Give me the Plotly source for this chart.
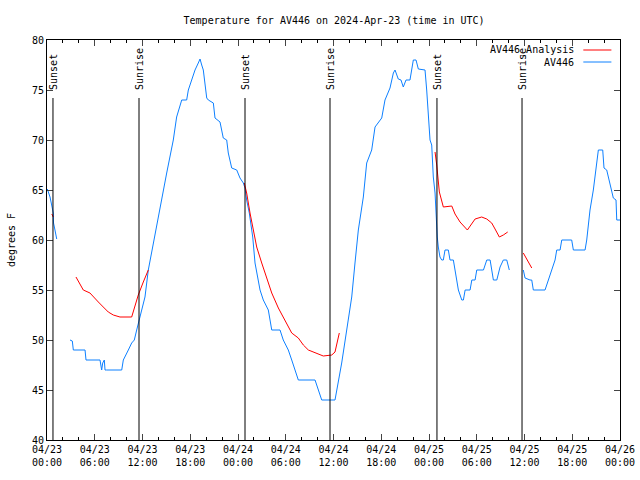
import pandas as pd
import plotly.graph_objects as go

START = pd.Timestamp("2024-04-23 00:00")

# AV446 observed temperature: hours since 04/23 00:00 UTC, degrees F (None = gap)
obs_hours = [0.04, 0.38, 0.79, 0.82, 1.0, 1.22, None,
             2.89, 3.18, 3.31, 4.78, 4.90, 6.66, 6.87, 7.0, 7.2, 7.29, 7.50, 9.39, 9.59, 9.93,
             10.22, 10.64, 10.97, 11.27, 11.60, 11.90, 12.31, 12.73, 13.36, 14.20, 15.04, 15.87,
             16.29, 16.93, 17.55, 17.76, 18.18, 18.60, 19.01, 19.23, 19.44, 19.64, 20.07, 20.27,
             20.90, 21.11, 21.74, 22.15, 22.58, 22.78, 23.21, 23.84, 24.25, 24.67, 24.88, 25.09,
             25.42, 25.85, 26.14, 26.43, 26.77, 27.18, 27.81, 28.24, 29.28, 29.69, 30.32, 30.75,
             31.16, 31.58, 33.68, 34.09, 34.52, 36.19, 36.60, 37.03, 37.66, 38.29, 38.70, 39.12,
             39.75, 40.17, 40.80, 41.22, 42.06, 42.47, 43.10, 43.52, 43.73, 44.14, 44.48, 44.77,
             45.11, 45.61, 46.03, 46.37, 46.66, 47.50, 47.71, 47.91, 48.13, 48.34, 48.54, 48.76,
             48.88, 49.04, 49.17, 49.38, 49.60, 49.80, 50.01, 50.43, 50.64, 51.06, 51.27, 51.69,
             52.12, 52.32, 52.54, 53.16, 53.38, 53.79, 54.00, 54.84, 55.26, 55.68, 56.09, 56.52,
             56.93, 57.34, 57.77, 58.09, None,
             59.85, 60.07, 60.69, 60.91, 61.11, 62.58, 63.00, 63.42, 63.84, 64.05, 64.47, 64.68,
             65.93, 66.14, 67.61, 67.82, 68.23, 68.65, 69.08, 69.28, 69.83, 69.99, 70.33, 70.75,
             71.16, 71.50, 71.59, 72.0]
obs_temp = [65.1, 64.3, 62.7, 61.7, 61.0, 60.1, None,
            50.0, 49.9, 49.0, 49.0, 48.0, 48.0, 47.0, 47.7, 48.0, 47.0, 47.0, 47.0, 48.0, 48.5,
            49.0, 49.7, 50.0, 51.0, 52.0, 53.0, 54.3, 57.0, 59.7, 63.0, 66.7, 70.0,
            72.3, 74.0, 74.0, 75.0, 76.0, 77.0, 77.7, 78.1, 77.5, 77.0, 74.2, 74.0,
            73.7, 72.2, 71.8, 70.2, 70.0, 68.7, 67.2, 67.0, 66.2, 65.7, 65.2, 64.0,
            62.7, 60.3, 57.7, 56.3, 55.0, 54.0, 53.0, 51.0, 51.0, 50.0, 49.0, 48.0,
            47.0, 46.0, 46.0, 45.0, 44.0, 44.0, 45.7, 47.7, 51.0, 54.3, 57.7, 61.0,
            64.3, 67.7, 69.0, 71.3, 72.2, 74.0, 75.2, 76.7, 77.0, 76.1, 76.0, 75.3,
            76.0, 76.0, 78.0, 78.0, 77.1, 77.0, 75.0, 72.7, 70.0, 69.5, 66.3, 64.7,
            62.0, 60.3, 59.3, 58.3, 58.0, 58.0, 59.0, 59.0, 58.0, 58.0, 57.0, 55.0,
            54.0, 54.0, 55.0, 55.0, 56.0, 56.0, 57.0, 57.0, 58.0, 58.0, 56.0, 56.0,
            57.3, 58.0, 58.0, 57.0, None,
            57.0, 56.2, 56.0, 56.0, 55.0, 55.0, 56.0, 57.0, 58.0, 59.0, 59.0, 60.0,
            60.0, 59.0, 59.0, 60.0, 63.0, 65.0, 68.0, 69.0, 69.0, 67.2, 67.0, 65.7,
            64.2, 64.0, 62.0, 62.0]

# AV446 analysis temperature
ana_hours = [0.60, 0.79, None,
             3.64, 4.15, 4.56, 5.40, 5.82, 6.45, 7.07, 7.70, 8.33, 9.17, 10.64, 11.06, 11.47,
             12.10, 12.73, None,
             24.79, 25.09, 25.51, 25.92, 26.35, 26.98, 27.61, 28.24, 29.07, 29.91, 30.75, 31.58,
             32.21, 32.84, 33.68, 34.72, 35.78, 36.19, 36.73, None,
             48.76, 48.97, 49.30, 49.60, 49.80, 50.86, 51.27, 51.90, 52.82, 53.79, 54.62, 55.26,
             55.88, 56.30, 56.84, 57.34, 57.89, None,
             59.85, 60.91]
ana_temp = [62.6, 62.3, None,
            56.3, 55.5, 55.0, 54.7, 54.3, 53.8, 53.3, 52.8, 52.5, 52.3, 52.3, 53.5, 54.5,
            55.8, 57.0, None,
            65.7, 64.7, 62.7, 61.0, 59.3, 57.7, 56.2, 54.7, 53.2, 52.0, 50.7, 50.2,
            49.5, 49.0, 48.7, 48.4, 48.5, 48.8, 50.7, None,
            68.8, 67.5, 64.8, 63.7, 63.3, 63.4, 62.6, 61.8, 61.0, 62.1, 62.3, 62.1,
            61.7, 61.1, 60.3, 60.5, 60.8, None,
            58.7, 57.2]

event_hours = [0.75, 11.56, 24.88, 35.56, 49.0, 59.69]
event_labels = ["Sunset", "Sunrise", "Sunset", "Sunrise", "Sunset", "Sunrise"]

tick_hours = list(range(0, 73, 6))
tick_labels = ["04/23<br>00:00", "04/23<br>06:00", "04/23<br>12:00", "04/23<br>18:00",
               "04/24<br>00:00", "04/24<br>06:00", "04/24<br>12:00", "04/24<br>18:00",
               "04/25<br>00:00", "04/25<br>06:00", "04/25<br>12:00", "04/25<br>18:00",
               "04/26<br>00:00"]


def to_time(hours):
    return [None if h is None else START + pd.Timedelta(hours=h) for h in hours]


FONT = "DejaVu Sans Mono"
RED = "#ff0000"
BLUE = "#0d80ff"

fig = go.Figure()
fig.add_trace(go.Scatter(x=to_time(obs_hours), y=obs_temp, mode="lines",
                         line=dict(color=BLUE, width=1), name="AV446",
                         connectgaps=False))
fig.add_trace(go.Scatter(x=to_time(ana_hours), y=ana_temp, mode="lines",
                         line=dict(color=RED, width=1), name="AV446_Analysis",
                         connectgaps=False))

for h, lab in zip(event_hours, event_labels):
    t = START + pd.Timedelta(hours=h)
    fig.add_shape(type="line", x0=t, x1=t, y0=40, y1=74.2, xref="x", yref="y",
                  line=dict(color="black", width=1))
    fig.add_annotation(x=t, y=74.8, xref="x", yref="y", text=lab, textangle=-90,
                       showarrow=False, yanchor="bottom", xanchor="center",
                       font=dict(family=FONT, size=10, color="black"))

# legend (gnuplot style: text then line sample)
legend_items = [("AV446_Analysis", RED), ("AV446", BLUE)]
for i, (name, col) in enumerate(legend_items):
    yp = 0.975 - i * 0.03
    fig.add_annotation(x=0.923, y=yp, xref="paper", yref="paper", text=name,
                       showarrow=False, xanchor="right", yanchor="middle",
                       font=dict(family=FONT, size=10, color="black"))
    fig.add_shape(type="line", x0=0.936, x1=0.985, y0=yp, y1=yp, xref="paper",
                  yref="paper", line=dict(color=col, width=1))

tick_times = to_time(tick_hours)
fig.update_layout(
    width=640, height=480,
    margin=dict(l=47, r=20, t=40, b=40, autoexpand=False),
    paper_bgcolor="white", plot_bgcolor="white",
    showlegend=False,
    font=dict(family=FONT, size=10, color="black"),
    title=dict(text="Temperature for AV446 on 2024-Apr-23 (time in UTC)",
               x=0.522, xanchor="center", y=0.958, yanchor="middle",
               font=dict(family=FONT, size=10, color="black")),
    xaxis=dict(range=[tick_times[0], tick_times[-1]], tickvals=tick_times,
               ticktext=tick_labels, ticks="inside", ticklen=6, mirror="allticks",
               showline=True, linecolor="black", linewidth=1, showgrid=False,
               zeroline=False, automargin=False,
               minor=dict(dtick=2 * 3600000, ticks="inside", ticklen=3,
                          tickcolor="black", showgrid=False),
               tickfont=dict(family=FONT, size=10)),
    yaxis=dict(range=[40, 80], dtick=5, tick0=40, ticks="inside", ticklen=6,
               mirror="allticks", showline=True, linecolor="black", linewidth=1,
               showgrid=False, zeroline=False, automargin=False,
               title=dict(text="degrees F", font=dict(family=FONT, size=10), standoff=14),
               tickfont=dict(family=FONT, size=10)),
)

fig.write_html("out.html", config={"displayModeBar": False},
               post_script="document.body.style.margin='0px';")
